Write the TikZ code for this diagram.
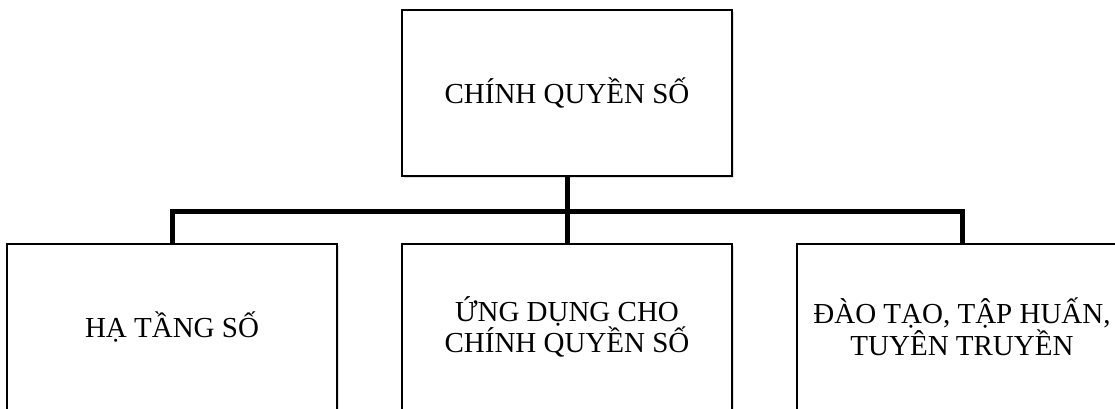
\documentclass[tikz,border=0pt]{standalone}
\usepackage{fontspec}
\setmainfont{Liberation Serif}
\usetikzlibrary{positioning, calc, shadows}

\begin{document}
\begin{tikzpicture}[
    x=1pt, y=-1pt,
    unit/.style={
        draw=black,                % thin black border
        fill=white,
        line width=1.2pt,
        align=center,
        inner sep=0pt,
        minimum width=330pt,
        minimum height=166pt,
        font=\fontsize{29}{29}\selectfont,
        drop shadow={shadow xshift=1.5pt, shadow yshift=-1.5pt, opacity=0.25}
    },
    link/.style={
        draw=black,
        line width=5pt,            % heavy connector lines
        line join=miter
    }
]

    % --- 1. Canvas ---
    \useasboundingbox (0,0) rectangle (1115,408);

    % --- 2. Boxes ---
    \node[unit] (root) at (567,93) {CHÍNH QUYỀN SỐ};
    \node[unit] (infra) at (172,327) {HẠ TẦNG SỐ};
    \node[unit] (apps) at (567,327) {ỨNG DỤNG CHO\\CHÍNH QUYỀN SỐ};
    \node[unit] (train) at (962,327) {ĐÀO TẠO, TẬP HUẤN,\\TUYÊN TRUYỀN};

    % --- 3. Connectors ---
    \coordinate (bus) at (0,211);

    \draw[link] (root.south) -- (apps.north);
    \draw[link] (infra.north) |- (train.north |- bus) -- (train.north);

\end{tikzpicture}
\end{document}
